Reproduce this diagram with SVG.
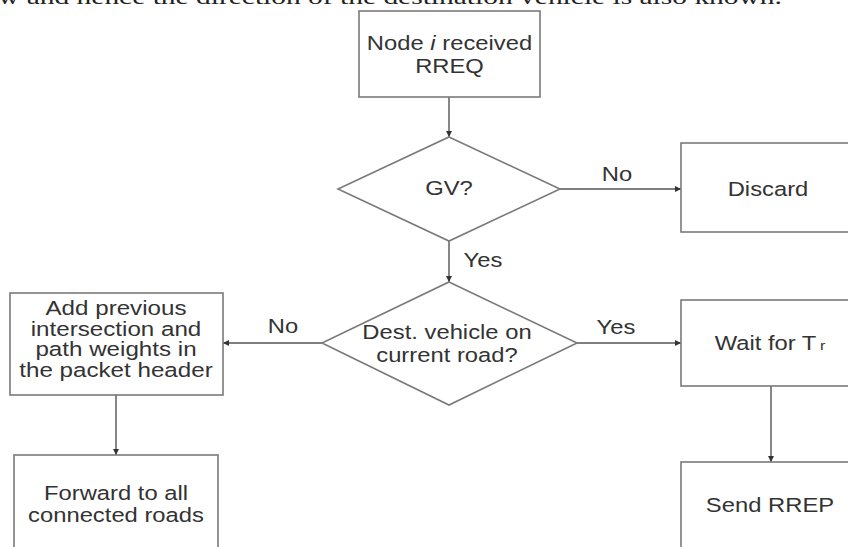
<svg xmlns="http://www.w3.org/2000/svg" width="848" height="547" viewBox="0 0 848 547">
<defs>
<style>
.box{fill:#fff;stroke:#7a7a7a;stroke-width:1.6}
.t{font-family:"Liberation Sans",Arial,sans-serif;font-size:19.5px;fill:#333;text-anchor:middle}
.hdr{font-family:"Liberation Serif","Times New Roman",serif;font-size:22px;fill:#222}
.c{fill:none;stroke:#555;stroke-width:1.4}
</style>
<marker id="ah" viewBox="0 0 8 8" refX="8" refY="4" markerWidth="6" markerHeight="6" markerUnits="userSpaceOnUse" orient="auto">
<path d="M0,0 L8,4 L0,8 z" fill="#333"/>
</marker>
</defs>
<rect width="848" height="547" fill="#fff"/>
<text class="hdr" transform="translate(-2 4) scale(1.34 1)">w and hence the direction of the destination vehicle is also known.</text>

<g id="connectors">
<line class="c" x1="449" y1="97" x2="449" y2="137" marker-end="url(#ah)"/>
<line class="c" x1="560" y1="189" x2="681" y2="189" marker-end="url(#ah)"/>
<line class="c" x1="449" y1="241" x2="449" y2="282" marker-end="url(#ah)"/>
<line class="c" x1="322" y1="343" x2="223" y2="343" marker-end="url(#ah)"/>
<line class="c" x1="577" y1="343" x2="681" y2="343" marker-end="url(#ah)"/>
<line class="c" x1="116" y1="395" x2="116" y2="455" marker-end="url(#ah)"/>
<line class="c" x1="771" y1="386" x2="771" y2="462" marker-end="url(#ah)"/>
<text class="t" transform="translate(617 181) scale(1.22 1)">No</text>
<text class="t" transform="translate(483 267) scale(1.22 1)">Yes</text>
<text class="t" transform="translate(283 333) scale(1.22 1)">No</text>
<text class="t" transform="translate(616 334) scale(1.22 1)">Yes</text>
</g>

<g id="n-start">
<rect class="box" x="359" y="11" width="181" height="86"/>
<text class="t" transform="translate(449.5 50) scale(1.22 1)">Node <tspan font-style="italic">i</tspan> received</text>
<text class="t" transform="translate(449.5 73) scale(1.22 1)">RREQ</text>
</g>

<g id="n-gv">
<polygon class="box" points="449,137 560,189 449,241 338,189"/>
<text class="t" transform="translate(449 195) scale(1.22 1)">GV?</text>
</g>

<g id="n-discard">
<rect class="box" x="681" y="143" width="180" height="89"/>
<text class="t" transform="translate(768 196) scale(1.22 1)">Discard</text>
</g>

<g id="n-dest">
<polygon class="box" points="449,282 577,343 449,405 322,343"/>
<text class="t" transform="translate(447 339) scale(1.22 1)">Dest. vehicle on</text>
<text class="t" transform="translate(447 362) scale(1.22 1)">current road?</text>
</g>

<g id="n-add">
<rect class="box" x="10" y="293" width="213" height="102"/>
<text class="t" transform="translate(116 315) scale(1.24 1)">Add previous</text>
<text class="t" transform="translate(116 336) scale(1.24 1)">intersection and</text>
<text class="t" transform="translate(116 356) scale(1.24 1)">path weights in</text>
<text class="t" transform="translate(116 377) scale(1.24 1)">the packet header</text>
</g>

<g id="n-forward">
<rect class="box" x="14" y="455" width="204" height="110"/>
<text class="t" transform="translate(116 500) scale(1.22 1)">Forward to all</text>
<text class="t" transform="translate(116 522) scale(1.22 1)">connected roads</text>
</g>

<g id="n-wait">
<rect class="box" x="681" y="300" width="180" height="86"/>
<text class="t" transform="translate(770 350) scale(1.22 1)">Wait for T<tspan font-size="13" dx="3">r</tspan></text>
</g>

<g id="n-send">
<rect class="box" x="681" y="462" width="180" height="110"/>
<text class="t" transform="translate(770 512) scale(1.22 1)">Send RREP</text>
</g>
</svg>
